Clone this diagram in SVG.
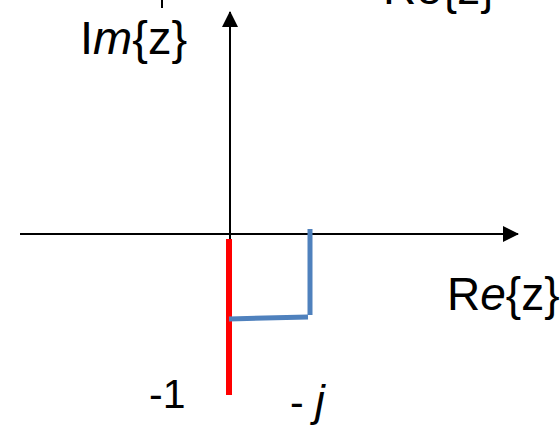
<svg xmlns="http://www.w3.org/2000/svg" width="560" height="432" viewBox="0 0 560 432">
<defs>
<style>
.lbl{font-family:"Liberation Sans","DejaVu Sans",sans-serif;fill:#000}
.axis{stroke:#000;stroke-width:2;fill:none}
.blue{stroke:#4F81BD;stroke-width:5;fill:none}
.red{stroke:#FF0000;stroke-width:6;fill:none}
</style>
<marker id="arr" viewBox="0 0 16 16" refX="15" refY="8" markerWidth="16" markerHeight="16" markerUnits="userSpaceOnUse" orient="auto">
<path d="M0,0 L16,8 L0,16 Z" fill="#000"/>
</marker>
</defs>
<rect width="560" height="432" fill="#fff"/>
<g id="connectors">
<line class="axis" x1="20" y1="234" x2="518" y2="234" marker-end="url(#arr)"/>
<line class="axis" x1="230" y1="240" x2="230" y2="12" marker-end="url(#arr)"/>
<line class="axis" x1="162" y1="0" x2="162" y2="8"/>
<line class="red" x1="229" y1="239" x2="229" y2="395"/>
<line class="blue" x1="310" y1="229" x2="310" y2="315"/>
<line class="blue" x1="229" y1="319" x2="308" y2="317"/>
</g>
<g id="label-im"><text class="lbl" x="80" y="54" font-size="47">I<tspan font-style="italic">m</tspan>{z}</text></g>
<g id="label-re-top"><text class="lbl" x="383" y="4" font-size="46">Re{z}</text></g>
<g id="label-re"><text class="lbl" x="447" y="310" font-size="46">R<tspan font-style="italic">e</tspan>{z}</text></g>
<g id="label-m1"><text class="lbl" x="149" y="408" font-size="41">-1</text></g>
<g id="label-mj"><text class="lbl" x="290" y="416" font-size="41">- <tspan font-style="italic" font-size="44">j</tspan></text></g>
</svg>
